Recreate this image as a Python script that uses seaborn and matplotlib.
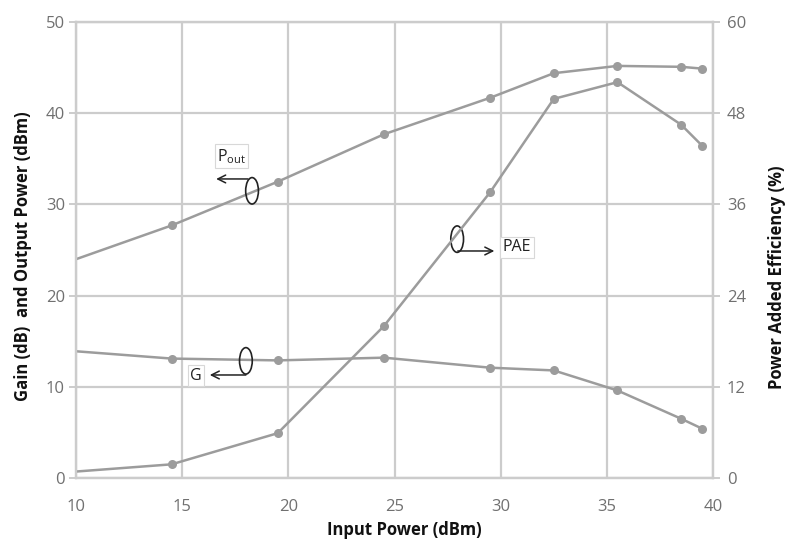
import matplotlib
matplotlib.use("Agg")
import matplotlib.pyplot as plt
from matplotlib.patches import Ellipse
import seaborn as sns
import pandas as pd

# ---- data ----
pin = [10, 14.5, 19.5, 24.5, 29.5, 32.5, 35.5, 38.5, 39.5]
pout = [24.0, 27.7, 32.5, 37.7, 41.7, 44.4, 45.2, 45.1, 44.9]
gain = [13.9, 13.1, 12.9, 13.2, 12.1, 11.8, 9.6, 6.5, 5.4]
pae = [0.85, 1.8, 5.9, 20.0, 37.6, 49.9, 52.1, 46.5, 43.7]

x_ticks = [10, 15, 20, 25, 30, 35, 40]
left_ticks = [0, 10, 20, 30, 40, 50]
right_ticks = [0, 12, 24, 36, 48, 60]

x_label = "Input Power (dBm)"
left_label = "Gain (dB)  and Output Power (dBm)"
right_label = "Power Added Efficiency (%)"

df = pd.DataFrame({"pin": pin, "pout": pout, "gain": gain, "pae": pae})

sns.set_theme(style="white")
plt.rcParams["font.family"] = ["Open Sans", "DejaVu Sans"]

line_c = "#9c9c9c"
grid_c = "#cccccc"
tick_c = "#707070"

fig = plt.figure(figsize=(7.87, 5.40), dpi=100)
ax = fig.add_axes([0.0966, 0.1148, 0.8094, 0.8442])
ax2 = ax.twinx()

kw = dict(color=line_c, linewidth=1.8, marker="o", markersize=6.5,
          markeredgewidth=0, markevery=slice(1, None), clip_on=True)
sns.lineplot(data=df, x="pin", y="pout", ax=ax, **kw)
sns.lineplot(data=df, x="pin", y="gain", ax=ax, **kw)
sns.lineplot(data=df, x="pin", y="pae", ax=ax2, **kw)

ax.set_xlim(10, 40)
ax.set_ylim(0, 50)
ax2.set_ylim(0, 60)
ax.set_xticks(x_ticks)
ax.set_yticks(left_ticks)
ax2.set_yticks(right_ticks)

ax.grid(True, color=grid_c, linewidth=1.6)
ax.set_axisbelow(True)
ax2.grid(False)
for a in (ax, ax2):
    for s in a.spines.values():
        s.set_color(grid_c)
        s.set_linewidth(1.6)
    a.tick_params(colors=tick_c, labelsize=12, length=5, width=1.4)
    a.tick_params(axis="both", which="both", color=grid_c)
ax.tick_params(axis="x", length=0, pad=15)
ax.tick_params(axis="y", pad=3)
ax2.tick_params(axis="y", pad=5)

lab = dict(fontsize=12, fontweight="bold", color="#111111")
ax.set_xlabel(x_label, **lab)
ax.xaxis.set_label_coords(0.516, -0.094)
ax.set_ylabel(left_label, **lab)
ax.yaxis.set_label_coords(-0.069, 0.487)
ax2.set_ylabel(right_label, **lab)
ax2.yaxis.set_label_coords(1.086, 0.44)

# ---- annotations ----
ann_c = "#222222"
box = dict(boxstyle="square,pad=0.15", fc="white", ec="#d8d8d8", lw=0.8)

def mark(cx, cy, ax_from, ay, ax_to, label, lx, ly):
    ax.add_patch(Ellipse((cx, cy), 0.6, 2.9, fill=False, ec=ann_c, lw=1.2, zorder=5))
    ax.annotate("", xy=(ax_to, ay), xytext=(ax_from, ay),
                arrowprops=dict(arrowstyle="->", color=ann_c, lw=1.1,
                                shrinkA=0, shrinkB=0, mutation_scale=14), zorder=5)
    ax.text(lx, ly, label, fontsize=11.5, color=ann_c, ha="center", va="center",
            bbox=box, zorder=6)

mark(18.29, 31.5, 18.1, 32.8, 16.6, r"P$_{\mathregular{out}}$", 17.32, 35.3)
mark(18.0, 12.85, 18.0, 11.3, 16.3, "G", 15.65, 11.2)
mark(27.95, 26.2, 27.98, 24.9, 29.7, "PAE", 30.77, 25.3)

fig.savefig("out.png", dpi=100)
